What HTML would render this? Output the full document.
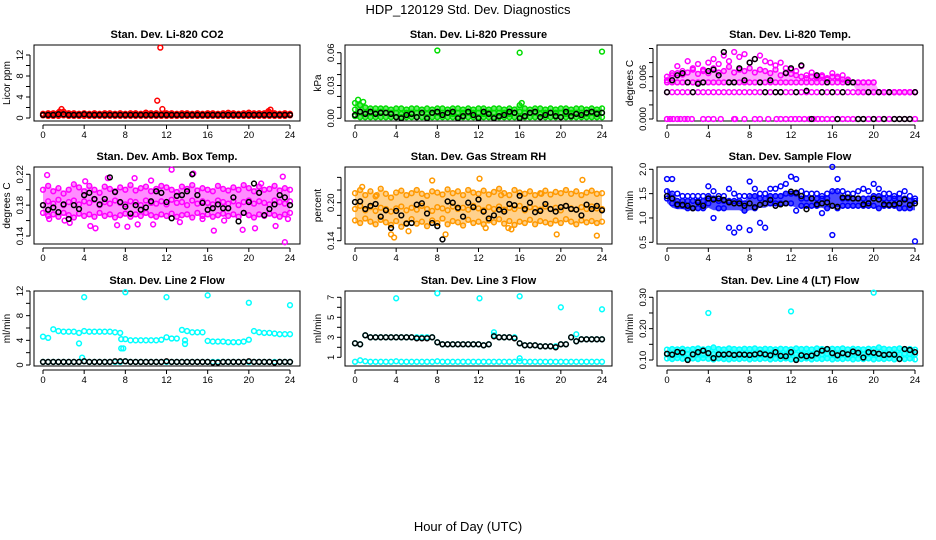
<!DOCTYPE html>
<html><head><meta charset="utf-8"><style>
html,body{margin:0;padding:0;background:#fff;}
svg{display:block;font-family:"Liberation Sans",Arial,sans-serif;}
</style></head><body>
<svg id="chart" width="936" height="540" viewBox="0 0 936 540" xmlns="http://www.w3.org/2000/svg">
<rect width="936" height="540" fill="#fff"/>
<text x="468" y="14" font-size="13" text-anchor="middle">HDP_120129  Std. Dev. Diagnostics</text>
<text x="468" y="531" font-size="13" text-anchor="middle">Hour of Day (UTC)</text>
<g id="plots"></g>
</svg>
<script>
const hours=[0,0.5,1,1.5,2,2.5,3,3.5,4,4.5,5,5.5,6,6.5,7,7.5,8,8.5,9,9.5,10,10.5,11,11.5,12,12.5,13,13.5,14,14.5,15,15.5,16,16.5,17,17.5,18,18.5,19,19.5,20,20.5,21,21.5,22,22.5,23,23.5,24];
const xTicks=[0,4,8,12,16,20,24];

const co2Hi=[0.8,0.9,0.9,1.0,1.2,0.9,0.9,0.8,0.9,0.8,0.9,0.8,0.9,0.9,0.8,0.9,0.8,0.9,0.9,0.8,1.0,0.9,0.9,0.8,0.9,0.9,0.8,0.9,0.9,0.8,0.9,0.8,0.9,0.9,0.8,0.9,1.0,0.9,0.8,0.9,1.0,0.9,0.9,0.9,1.1,0.9,0.8,0.9,0.8];
const co2Lo=[0.5,0.4,0.4,0.4,0.5,0.4,0.4,0.4,0.4,0.4,0.4,0.4,0.4,0.4,0.4,0.4,0.4,0.4,0.4,0.4,0.4,0.4,0.4,0.4,0.4,0.4,0.4,0.4,0.4,0.4,0.4,0.4,0.4,0.4,0.4,0.4,0.4,0.4,0.4,0.4,0.4,0.4,0.4,0.4,0.4,0.4,0.4,0.4,0.5];
const co2Black=[0.6,0.6,0.6,0.7,0.7,0.6,0.6,0.6,0.7,0.6,0.6,0.6,0.6,0.6,0.6,0.6,0.6,0.6,0.6,0.6,0.6,0.6,0.6,0.6,0.6,0.6,0.6,0.6,0.6,0.6,0.6,0.6,0.6,0.6,0.6,0.6,0.6,0.6,0.6,0.6,0.6,0.6,0.6,0.6,0.6,0.6,0.6,0.6,0.6];
const co2OutX=[1.8,11.1,11.4,11.6,22.1,21.9,10,20,1.6];
const co2OutY=[1.7,3.3,13.4,1.7,1.6,1.3,1.0,1.0,1.2];

const prHi=[0.014,0.012,0.010,0.009,0.009,0.009,0.009,0.008,0.009,0.009,0.008,0.009,0.009,0.008,0.009,0.008,0.009,0.009,0.008,0.009,0.009,0.008,0.009,0.008,0.009,0.009,0.008,0.009,0.009,0.008,0.009,0.008,0.012,0.009,0.008,0.009,0.009,0.008,0.009,0.008,0.009,0.009,0.008,0.009,0.009,0.008,0.009,0.008,0.009];
const prMid=[0.008,0.006,0.005,0.005,0.005,0.006,0.005,0.005,0.005,0.004,0.005,0.005,0.005,0.005,0.004,0.005,0.005,0.005,0.005,0.004,0.005,0.005,0.005,0.005,0.005,0.004,0.005,0.005,0.005,0.005,0.004,0.005,0.006,0.005,0.005,0.005,0.004,0.005,0.005,0.005,0.005,0.004,0.005,0.005,0.005,0.004,0.005,0.005,0.005];
const prLo=[0.002,0.001,0.001,0.001,0.001,0.001,0.001,0.001,0.001,0.001,0.001,0.001,0.001,0.001,0.001,0.001,0.001,0.001,0.001,0.001,0.001,0.001,0.001,0.001,0.001,0.001,0.001,0.001,0.001,0.001,0.001,0.001,0.001,0.001,0.001,0.001,0.001,0.001,0.001,0.001,0.001,0.001,0.001,0.001,0.001,0.001,0.001,0.001,0.001];
const prBlack=[0.003,0.006,0.004,0.006,0.004,0.005,0.005,0.004,0.001,0.000,0.003,0.004,0.001,0.005,0.000,0.005,0.006,0.003,0.005,0.006,0.000,0.002,0.006,0.003,0.000,0.006,0.004,0.000,0.002,0.003,0.006,0.005,0.000,0.002,0.005,0.006,0.001,0.003,0.005,0.002,0.001,0.006,0.002,0.004,0.003,0.005,0.006,0.004,0.005];
const prOutX=[8,16,24,0.3,0.8,16.2];
const prOutY=[0.062,0.060,0.061,0.017,0.015,0.014];

const tHi=[0.0055,0.0065,0.0075,0.0068,0.0082,0.0072,0.0078,0.0070,0.0080,0.0085,0.0078,0.0090,0.0082,0.0095,0.0088,0.0092,0.0080,0.0085,0.0090,0.0082,0.0080,0.0076,0.0080,0.0072,0.0070,0.0068,0.0075,0.0062,0.0066,0.0060,0.0062,0.0058,0.0065,0.0060,0.0062,0.0056,0.0052,0.0052,0.0052,0.0052,0.0052,0.0038,0.0038,0.0038,0.0038,0.0038,0.0038,0.0038,0.0038];
const tMid=[0.0060,0.0062,0.0065,0.0063,0.0066,0.0070,0.0064,0.0068,0.0065,0.0072,0.0066,0.0068,0.0074,0.0066,0.0070,0.0068,0.0072,0.0066,0.0070,0.0068,0.0065,0.0070,0.0062,0.0066,0.0064,0.0062,0.0060,0.0058,0.0060,0.0058,0.0060,0.0056,0.0060,0.0058,0.0056,0.0055,0.0052,0.0052,0.0052,0.0052,0.0052,0.0038,0.0038,0.0038,0.0038,0.0038,0.0038,0.0038,0.0038];
const tRow2=[0.0052,0.0052,0.0052,0.0052,0.0052,0.0052,0.0052,0.0052,0.0052,0.0052,0.0052,0.0052,0.0052,0.0052,0.0052,0.0052,0.0052,0.0052,0.0052,0.0052,0.0052,0.0052,0.0052,0.0052,0.0052,0.0052,0.0052,0.0052,0.0052,0.0052,0.0052,0.0052,0.0052,0.0052,0.0052,0.0052,0.0052,0.0038,0.0038,0.0038,0.0038,0.0038,0.0038,0.0038,0.0038,0.0038,0.0038,0.0038,0.0038];
const tRow1=[0.0038,0.0038,0.0038,0.0038,0.0038,0.0038,0.0038,0.0038,0.0038,0.0038,0.0038,0.0038,0.0038,0.0038,0.0038,0.0038,0.0038,0.0038,0.0038,0.0038,0.0038,0.0038,0.0038,0.0038,0.0038,0.0038,0.0038,0.0038,0.0038,0.0038,0.0038,0.0038,0.0038,0.0038,0.0038,0.0038,0.0038,0.0038,0.0038,0.0038,0.0038,0.0038,0.0038,0.0038,0.0038,0.0038,0.0038,0.0038,0.0038];
const tZeroX=[0,0.3,0.6,1,1.3,1.7,2,2.4,3.5,4,4.5,5.2,6.5,6.6,7.5,8.5,9,9.8,10.6,11,11.5,12,12.4,12.8,13.3,13.8,14.2,14.6,15,15.5,16,16.5,17,17.5,18,18.5,19,19.5,20,20.5,21,21.5,22,22.5,23,23.5,24];
const tZeroY=[0,0,0,0,0,0,0,0,0,0,0,0,0,0,0,0,0,0,0,0,0,0,0,0,0,0,0,0,0,0,0,0,0,0,0,0,0,0,0,0,0,0,0,0,0,0,0];
const tBlack=[0.0038,0.0055,0.0062,0.0065,0.0052,0.0038,0.0050,0.0052,0.0068,0.0070,0.0062,0.0095,0.0052,0.0052,0.0072,0.0055,0.0080,0.0085,0.0052,0.0038,0.0055,0.0038,0.0038,0.0065,0.0072,0.0038,0.0076,0.0040,0.0000,0.0062,0.0038,0.0052,0.0038,0.0000,0.0038,0.0052,0.0052,0.0000,0.0000,0.0038,0.0000,0.0038,0.0000,0.0038,0.0000,0.0000,0.0000,0.0000,0.0038];

const ambHi=[0.200,0.205,0.198,0.202,0.195,0.200,0.207,0.203,0.198,0.205,0.200,0.196,0.204,0.201,0.198,0.203,0.200,0.206,0.199,0.202,0.204,0.198,0.201,0.205,0.203,0.200,0.197,0.204,0.201,0.206,0.199,0.202,0.200,0.198,0.205,0.201,0.199,0.203,0.200,0.206,0.202,0.198,0.204,0.200,0.201,0.205,0.199,0.202,0.200];
const ambMid=[0.180,0.185,0.182,0.187,0.180,0.184,0.186,0.181,0.185,0.183,0.187,0.180,0.184,0.182,0.186,0.183,0.181,0.185,0.184,0.180,0.186,0.183,0.182,0.185,0.181,0.187,0.183,0.184,0.180,0.186,0.182,0.185,0.183,0.181,0.186,0.184,0.182,0.185,0.180,0.184,0.186,0.182,0.185,0.183,0.181,0.186,0.184,0.182,0.185];
const ambLo=[0.170,0.166,0.168,0.165,0.170,0.167,0.164,0.169,0.166,0.168,0.165,0.170,0.166,0.168,0.164,0.167,0.169,0.165,0.168,0.166,0.170,0.167,0.165,0.168,0.166,0.169,0.165,0.167,0.168,0.164,0.170,0.166,0.168,0.165,0.167,0.169,0.166,0.168,0.165,0.170,0.167,0.164,0.168,0.166,0.169,0.167,0.165,0.168,0.170];
const ambOutX=[0.4,0.6,2.1,2.6,4.1,4.6,5.1,6.3,7.2,8.2,8.9,9.2,10.5,10.7,12.5,13.3,14.6,15.5,16.6,17.6,19.4,20.6,21.2,22.6,23.3,23.5,23.8];
const ambOutY=[0.219,0.162,0.160,0.157,0.211,0.153,0.150,0.215,0.154,0.152,0.215,0.155,0.212,0.155,0.226,0.158,0.221,0.162,0.147,0.160,0.148,0.150,0.208,0.153,0.217,0.132,0.162];
const ambBlack=[0.180,0.174,0.177,0.171,0.181,0.162,0.180,0.175,0.193,0.196,0.188,0.181,0.188,0.216,0.197,0.184,0.178,0.169,0.180,0.174,0.177,0.185,0.198,0.196,0.184,0.163,0.192,0.193,0.198,0.220,0.193,0.183,0.174,0.176,0.181,0.176,0.176,0.190,0.159,0.170,0.184,0.208,0.196,0.167,0.175,0.181,0.193,0.190,0.180];

const rhHi=[0.215,0.220,0.212,0.218,0.210,0.222,0.214,0.208,0.216,0.219,0.212,0.215,0.220,0.214,0.211,0.218,0.216,0.213,0.221,0.215,0.218,0.212,0.220,0.216,0.214,0.219,0.213,0.217,0.222,0.215,0.212,0.220,0.216,0.214,0.218,0.212,0.215,0.219,0.213,0.217,0.215,0.220,0.214,0.218,0.212,0.216,0.219,0.214,0.215];
const rhMid=[0.190,0.195,0.188,0.193,0.187,0.192,0.190,0.186,0.191,0.194,0.188,0.192,0.189,0.195,0.190,0.187,0.193,0.191,0.188,0.194,0.190,0.192,0.189,0.195,0.191,0.188,0.193,0.190,0.194,0.189,0.192,0.190,0.195,0.188,0.193,0.191,0.189,0.194,0.190,0.192,0.188,0.195,0.191,0.189,0.193,0.190,0.194,0.191,0.190];
const rhLo=[0.172,0.168,0.175,0.170,0.166,0.173,0.169,0.165,0.171,0.162,0.168,0.174,0.167,0.170,0.163,0.172,0.168,0.175,0.166,0.171,0.169,0.164,0.173,0.168,0.170,0.166,0.172,0.169,0.174,0.167,0.171,0.165,0.170,0.168,0.173,0.166,0.171,0.169,0.167,0.172,0.168,0.174,0.170,0.166,0.172,0.169,0.171,0.168,0.170];
const rhOutX=[0.7,2.1,3.5,7.5,12.1,12.7,14.2,14.9,18.1,22.1,3.8,5.2,8.8,15.2,19.6,23.5];
const rhOutY=[0.225,0.212,0.150,0.235,0.238,0.160,0.212,0.160,0.214,0.236,0.145,0.155,0.150,0.158,0.150,0.148];
const rhBlack=[0.201,0.202,0.190,0.195,0.198,0.178,0.188,0.160,0.187,0.180,0.167,0.168,0.197,0.199,0.183,0.168,0.163,0.142,0.202,0.200,0.192,0.178,0.200,0.193,0.205,0.186,0.175,0.180,0.189,0.186,0.198,0.196,0.211,0.190,0.200,0.185,0.187,0.198,0.190,0.186,0.193,0.195,0.190,0.189,0.180,0.197,0.190,0.195,0.188];

const sfHi=[1.8,1.8,1.5,1.45,1.45,1.45,1.45,1.45,1.65,1.55,1.45,1.45,1.6,1.5,1.45,1.45,1.75,1.6,1.5,1.5,1.6,1.6,1.65,1.7,1.85,1.8,1.55,1.5,1.5,1.5,1.45,1.5,2.05,1.8,1.55,1.5,1.5,1.55,1.6,1.55,1.7,1.6,1.5,1.5,1.45,1.5,1.55,1.45,1.4];
const sfMid=[1.55,1.5,1.35,1.35,1.35,1.35,1.35,1.35,1.45,1.4,1.35,1.35,1.35,1.35,1.35,1.3,1.45,1.45,1.4,1.4,1.45,1.45,1.45,1.5,1.5,1.5,1.4,1.4,1.4,1.4,1.4,1.4,1.55,1.55,1.4,1.4,1.4,1.4,1.4,1.4,1.45,1.45,1.4,1.4,1.4,1.4,1.4,1.35,1.35];
const sfLo=[1.4,1.3,1.25,1.25,1.2,1.2,1.2,1.2,1.3,1.0,1.2,1.2,0.8,0.7,0.8,1.15,0.75,1.2,0.9,0.8,1.3,1.3,1.3,1.3,1.3,1.15,1.25,1.25,1.25,1.25,1.1,1.2,0.65,1.2,1.25,1.25,1.25,1.25,1.25,1.25,1.25,1.2,1.25,1.25,1.25,1.2,1.2,1.2,0.52];
const sfBandLo=[1.35,1.25,1.22,1.22,1.2,1.2,1.2,1.2,1.25,1.2,1.2,1.2,1.2,1.2,1.2,1.15,1.2,1.2,1.25,1.25,1.3,1.3,1.3,1.3,1.3,1.25,1.25,1.25,1.25,1.25,1.25,1.2,1.25,1.25,1.25,1.25,1.25,1.25,1.25,1.25,1.25,1.2,1.25,1.25,1.25,1.2,1.2,1.2,1.2];
const sfBlack=[1.45,1.4,1.28,1.27,1.25,1.2,1.32,1.25,1.4,1.38,1.4,1.37,1.32,1.3,1.3,1.25,1.3,1.22,1.27,1.3,1.37,1.25,1.28,1.3,1.54,1.52,1.45,1.18,1.4,1.28,1.3,1.32,1.25,1.23,1.42,1.42,1.4,1.4,1.28,1.3,1.4,1.38,1.28,1.27,1.28,1.3,1.38,1.27,1.3];

const l2Hi=[4.6,4.4,5.8,5.5,5.4,5.4,5.4,5.2,5.5,5.4,5.4,5.4,5.4,5.4,5.3,5.2,4.2,4.0,4.0,4.0,4.0,4.0,4.0,4.1,4.5,4.3,4.3,5.7,5.5,5.3,5.3,5.3,3.9,3.8,3.8,3.8,3.7,3.7,3.7,3.8,4.1,5.5,5.3,5.2,5.2,5.1,5.0,5.0,5.0];
const l2Lo=[0.5,0.5,0.5,0.5,0.5,0.5,0.5,0.5,0.6,0.5,0.5,0.5,0.5,0.5,0.5,0.5,0.6,0.5,0.5,0.5,0.5,0.5,0.5,0.5,0.5,0.5,0.5,0.5,0.5,0.5,0.5,0.5,0.5,0.5,0.5,0.5,0.5,0.5,0.5,0.5,0.5,0.5,0.5,0.5,0.5,0.5,0.5,0.5,0.5];
const l2Black=[0.5,0.5,0.5,0.5,0.5,0.5,0.5,0.5,0.6,0.5,0.5,0.5,0.5,0.5,0.6,0.6,0.6,0.5,0.5,0.5,0.5,0.5,0.5,0.5,0.6,0.5,0.5,0.5,0.5,0.5,0.5,0.5,0.5,0.4,0.4,0.5,0.5,0.5,0.5,0.5,0.6,0.5,0.5,0.5,0.5,0.4,0.5,0.5,0.5];
const l2OutX=[4,8,12,16,20,24,7.6,7.8,3.5,7.6,13.8,13.8,3.8];
const l2OutY=[11.0,11.8,11.0,11.3,10.1,9.7,2.7,2.7,3.5,4.2,3.4,4.0,1.2];

const l3Hi=[2.4,2.3,3.2,3.0,3.0,3.0,3.0,3.0,3.0,3.0,3.0,3.0,3.0,3.0,3.0,3.0,2.5,2.3,2.3,2.3,2.3,2.3,2.3,2.3,2.3,2.2,2.3,3.2,3.0,3.0,3.0,3.0,2.4,2.2,2.2,2.2,2.1,2.1,2.1,2.1,2.3,2.3,3.0,2.6,2.8,2.8,2.8,2.8,2.8];
const l3Lo=[0.55,0.7,0.6,0.55,0.55,0.55,0.55,0.55,0.6,0.55,0.55,0.55,0.55,0.55,0.55,0.55,0.6,0.55,0.55,0.55,0.55,0.55,0.55,0.55,0.55,0.55,0.55,0.55,0.55,0.55,0.55,0.55,0.6,0.55,0.55,0.55,0.55,0.55,0.55,0.55,0.55,0.55,0.55,0.55,0.55,0.55,0.55,0.55,0.55];
const l3Black=[2.4,2.3,3.2,3.0,3.0,3.0,3.0,3.0,3.0,3.0,3.0,3.0,2.9,2.9,2.9,3.0,2.5,2.3,2.3,2.3,2.3,2.3,2.3,2.3,2.3,2.2,2.3,3.1,3.0,3.0,3.0,2.9,2.4,2.2,2.2,2.2,2.1,2.1,2.1,2.0,2.3,2.3,3.0,2.6,2.8,2.8,2.8,2.8,2.8];
const l3OutX=[4,8,12.1,16,20,24,13.5,21.5,16];
const l3OutY=[6.9,7.4,6.9,7.1,6.0,5.8,3.5,3.3,0.9];

const l4Hi=[0.133,0.135,0.134,0.136,0.133,0.135,0.137,0.134,0.136,0.140,0.135,0.134,0.137,0.135,0.134,0.136,0.135,0.137,0.134,0.136,0.135,0.134,0.136,0.135,0.134,0.137,0.135,0.136,0.134,0.137,0.135,0.134,0.136,0.135,0.137,0.134,0.136,0.135,0.134,0.136,0.135,0.140,0.136,0.134,0.135,0.137,0.134,0.135,0.133];
const l4Mid=[0.118,0.120,0.117,0.121,0.119,0.118,0.120,0.117,0.121,0.119,0.118,0.120,0.119,0.117,0.121,0.118,0.120,0.119,0.117,0.121,0.118,0.120,0.119,0.117,0.121,0.118,0.120,0.119,0.117,0.121,0.118,0.120,0.119,0.117,0.121,0.118,0.120,0.119,0.117,0.121,0.118,0.120,0.119,0.117,0.121,0.118,0.120,0.119,0.118];
const l4Lo=[0.105,0.103,0.106,0.104,0.102,0.105,0.103,0.106,0.104,0.102,0.105,0.103,0.102,0.104,0.103,0.105,0.102,0.104,0.103,0.105,0.102,0.104,0.103,0.105,0.102,0.104,0.103,0.105,0.102,0.104,0.103,0.105,0.102,0.104,0.103,0.105,0.102,0.104,0.103,0.105,0.102,0.104,0.103,0.105,0.102,0.104,0.103,0.105,0.102];
const l4OutX=[4,12,20];
const l4OutY=[0.250,0.255,0.315];
const l4Black=[0.120,0.117,0.126,0.124,0.100,0.118,0.125,0.130,0.122,0.106,0.118,0.117,0.119,0.116,0.118,0.117,0.116,0.118,0.121,0.118,0.115,0.125,0.113,0.112,0.125,0.100,0.115,0.112,0.114,0.121,0.130,0.135,0.122,0.115,0.122,0.118,0.127,0.123,0.108,0.125,0.123,0.120,0.116,0.118,0.117,0.103,0.135,0.132,0.125];

const NS="http://www.w3.org/2000/svg";
const root=document.getElementById('plots');
function mk(tag,attrs,parent){const e=document.createElementNS(NS,tag);for(const k in attrs)e.setAttribute(k,attrs[k]);(parent||root).appendChild(e);return e;}

const colX=[[43,290,34,300],[355,602,345,612],[667,915,657,923]];
const rowY=[[45,121],[167,244],[291,366]];
const panels=[
 {c:0,r:0,title:"Stan. Dev. Li-820 CO2",yt:"Licor ppm",v0:0,p0:118,v1:12,p1:55,ticks:[0,2,4,6,8,10,12],labs:["0","4","8","12"]},
 {c:1,r:0,title:"Stan. Dev. Li-820 Pressure",yt:"kPa",v0:0,p0:118.3,v1:0.06,p1:52.7,ticks:[0,0.01,0.02,0.03,0.04,0.05,0.06],labs:["0.00","0.03","0.06"]},
 {c:2,r:0,title:"Stan. Dev. Li-820 Temp.",yt:"degrees C",v0:0,p0:119,v1:0.006,p1:76.7,ticks:[0,0.002,0.004,0.006,0.008,0.010],labs:["0.000","0.006"]},
 {c:0,r:1,title:"Stan. Dev. Amb. Box Temp.",yt:"degrees C",v0:0.14,p0:236,v1:0.22,p1:174.3,ticks:[0.14,0.16,0.18,0.20,0.22],labs:["0.14","0.18","0.22"]},
 {c:1,r:1,title:"Stan. Dev. Gas Stream RH",yt:"percent",v0:0.14,p0:240.7,v1:0.20,p1:202.7,ticks:[0.14,0.16,0.18,0.20,0.22,0.24],labs:["0.14","0.20"]},
 {c:2,r:1,title:"Stan. Dev. Sample Flow",yt:"ml/min",v0:0.5,p0:242.3,v1:2.0,p1:169.3,ticks:[0.5,1.0,1.5,2.0],labs:["0.5","1.0","1.5","2.0"]},
 {c:0,r:2,title:"Stan. Dev. Line 2 Flow",yt:"ml/min",v0:0,p0:365,v1:12,p1:291,ticks:[0,2,4,6,8,10,12],labs:["0","4","8","12"]},
 {c:1,r:2,title:"Stan. Dev. Line 3 Flow",yt:"ml/min",v0:1,p0:357.3,v1:7,p1:297.3,ticks:[1,2,3,4,5,6,7],labs:["1","3","5","7"]},
 {c:2,r:2,title:"Stan. Dev. Line 4 (LT) Flow",yt:"ml/min",v0:0.10,p0:360,v1:0.30,p1:297.3,ticks:[0.10,0.15,0.20,0.25,0.30],labs:["0.10","0.20","0.30"]}
];
function xs(p,v){const c=colX[p.c];return c[0]+(c[1]-c[0])*v/24;}
function ys(p,v){return p.p0+(p.p1-p.p0)*(v-p.v0)/(p.v1-p.v0);}
function fmt(p,v){for(const l of p.labs){if(Math.abs(parseFloat(l)-v)<1e-9)return l;}return null;}

panels.forEach((p,i)=>{
  const g=mk('g',{});
  
  
  p.g=g;
  const c=colX[p.c],r=rowY[p.r];
  const box=mk('rect',{x:c[2],y:r[0],width:c[3]-c[2],height:r[1]-r[0],fill:'none',stroke:'#000','stroke-width':1},g);
  
  
  const t=mk('text',{x:(c[2]+c[3])/2,y:r[0]-7,'font-size':11,'font-weight':'bold','text-anchor':'middle'},g);
  t.textContent=p.title;
  
  
  const xa=mk('line',{x1:xs(p,0),x2:xs(p,24),y1:r[1]+4,y2:r[1]+4,stroke:'#000'},g);
  
  
  xTicks.forEach(v=>{
    mk('line',{x1:xs(p,v),x2:xs(p,v),y1:r[1]+4,y2:r[1]+8,stroke:'#000'},g);
    const tl=mk('text',{x:xs(p,v),y:r[1]+17,'font-size':9.5,'text-anchor':'middle'},g);
    tl.textContent=v;
    
    
  });
  const ya=mk('line',{x1:c[2]-4,x2:c[2]-4,y1:ys(p,p.ticks[0]),y2:ys(p,p.ticks[p.ticks.length-1]),stroke:'#000'},g);
  
  
  p.ticks.forEach(v=>{
    const y=ys(p,v);
    mk('line',{x1:c[2]-8,x2:c[2]-4,y1:y,y2:y,stroke:'#000'},g);
    const s=fmt(p,v);
    if(s){
      const tl=mk('text',{x:0,y:0,'font-size':9.5,'text-anchor':'middle',transform:'translate('+(c[2]-11)+','+y+') rotate(-90)'},g);
      tl.textContent=s;
      
      
    }
  });
  const yt=mk('text',{x:0,y:0,'font-size':10,'text-anchor':'middle',transform:'translate('+(c[2]-24)+','+((r[0]+r[1])/2)+') rotate(-90)'},g);
  yt.textContent=p.yt;
  
  
});

function band(pi,X,Hi,Lo,color,op){
  const p=panels[pi];
  const up=X.map((x,k)=>xs(p,x).toFixed(1)+','+(ys(p,Hi[k])-2).toFixed(1));
  const dn=X.map((x,k)=>xs(p,x).toFixed(1)+','+(ys(p,Lo[k])+2).toFixed(1)).reverse();
  const e=mk('polygon',{points:up.concat(dn).join(' '),fill:color,'fill-opacity':op,stroke:'none'},p.g);
  
  
}
function pts(pi,X,Y,color,name){
  const p=panels[pi];
  X.forEach((x,k)=>{
    const e=mk('circle',{cx:xs(p,x),cy:ys(p,Y[k]),r:2.4,fill:'none',stroke:color,'stroke-width':1.5},p.g);
    
    
  });
}
const RED='#ff0000',GRN='#00dd00',MAG='#ff00ff',ORG='#ff9900',BLU='#0000ff',CYN='#00ffff',BLK='#000';
band(0,hours,co2Hi,co2Lo,RED,0.8);
pts(0,hours,co2Hi,RED,'co2-point');pts(0,hours,co2Lo,RED,'co2-point');pts(0,co2OutX,co2OutY,RED,'co2-outlier');pts(0,hours,co2Black,BLK,'co2-hourly-point');
band(1,hours,prHi,prLo,GRN,0.6);
pts(1,hours,prHi,GRN,'pressure-point');pts(1,hours,prMid,GRN,'pressure-point');pts(1,hours,prLo,GRN,'pressure-point');pts(1,prOutX,prOutY,GRN,'pressure-outlier');pts(1,hours,prBlack,BLK,'pressure-hourly-point');
band(2,hours,tMid,tRow2,MAG,0.35);
pts(2,hours,tHi,MAG,'temp-point');pts(2,hours,tMid,MAG,'temp-point');pts(2,hours,tRow2,MAG,'temp-point');pts(2,hours,tRow1,MAG,'temp-point');pts(2,tZeroX,tZeroY,MAG,'temp-point');pts(2,hours,tBlack,BLK,'temp-hourly-point');
band(3,hours,ambHi,ambLo,MAG,0.45);
pts(3,hours,ambHi,MAG,'amb-point');pts(3,hours,ambMid,MAG,'amb-point');pts(3,hours,ambLo,MAG,'amb-point');pts(3,ambOutX,ambOutY,MAG,'amb-outlier');pts(3,hours,ambBlack,BLK,'amb-hourly-point');
band(4,hours,rhHi,rhLo,ORG,0.45);
pts(4,hours,rhHi,ORG,'rh-point');pts(4,hours,rhMid,ORG,'rh-point');pts(4,hours,rhLo,ORG,'rh-point');pts(4,rhOutX,rhOutY,ORG,'rh-outlier');pts(4,hours,rhBlack,BLK,'rh-hourly-point');
band(5,hours,sfMid,sfBandLo,BLU,0.7);
pts(5,hours,sfHi,BLU,'flow-point');pts(5,hours,sfMid,BLU,'flow-point');pts(5,hours,sfLo,BLU,'flow-point');pts(5,hours,sfBlack,BLK,'flow-hourly-point');
pts(6,hours,l2Hi,CYN,'line2-point');pts(6,hours,l2Lo,CYN,'line2-point');pts(6,l2OutX,l2OutY,CYN,'line2-outlier');pts(6,hours,l2Black,BLK,'line2-hourly-point');
pts(7,hours,l3Hi,CYN,'line3-point');pts(7,hours,l3Lo,CYN,'line3-point');pts(7,l3OutX,l3OutY,CYN,'line3-outlier');pts(7,hours,l3Black,BLK,'line3-hourly-point');
band(8,hours,l4Hi,l4Lo,CYN,0.7);
pts(8,hours,l4Hi,CYN,'line4-point');pts(8,hours,l4Mid,CYN,'line4-point');pts(8,hours,l4Lo,CYN,'line4-point');pts(8,l4OutX,l4OutY,CYN,'line4-outlier');pts(8,hours,l4Black,BLK,'line4-hourly-point');
</script>
</body></html>
